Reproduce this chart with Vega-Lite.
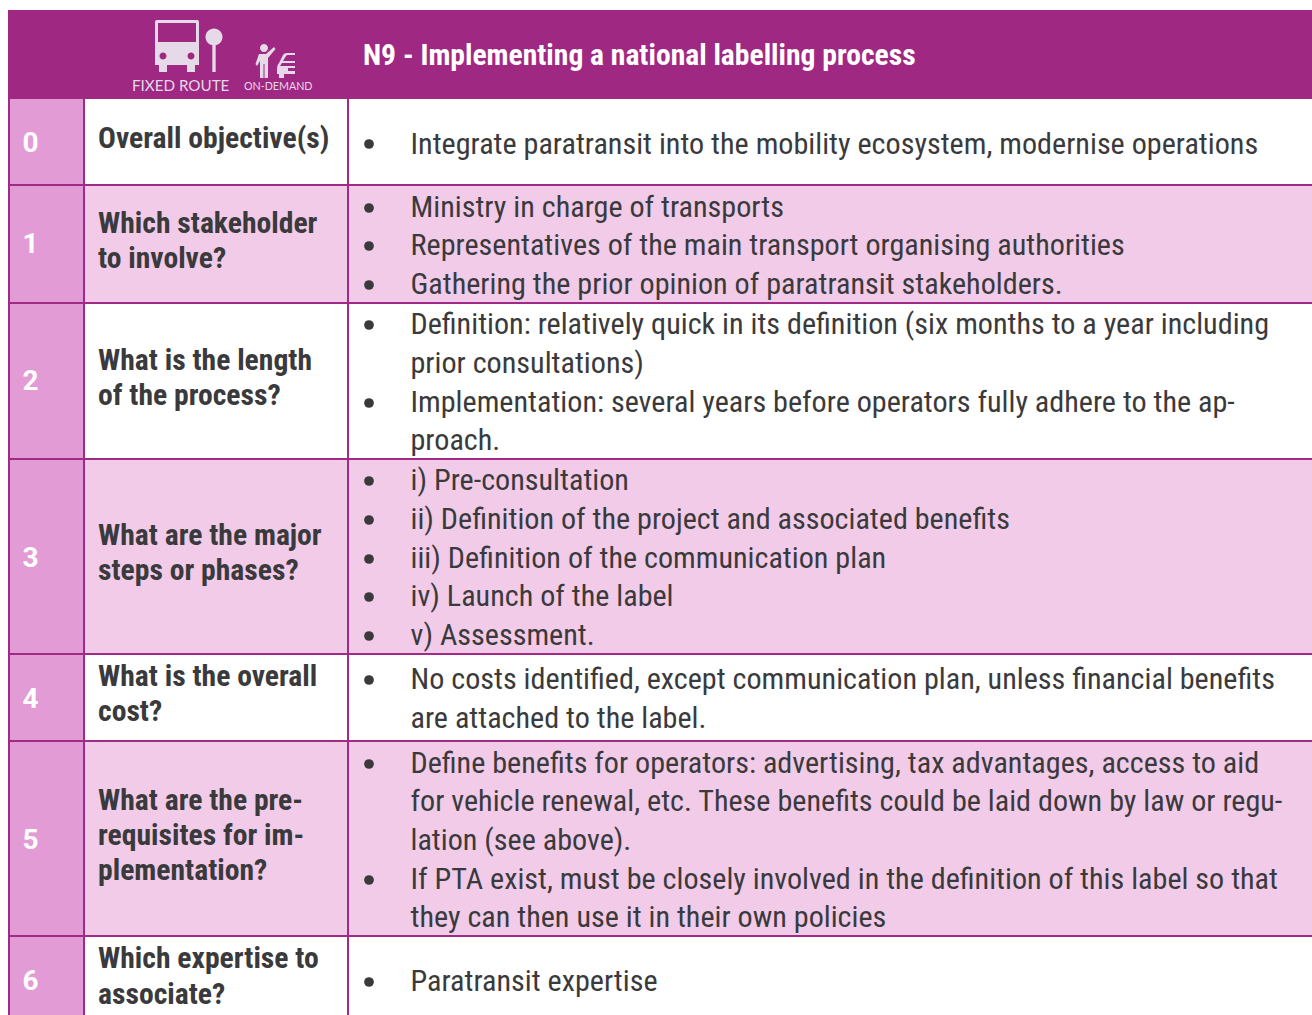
{
"$schema":"https://vega.github.io/schema/vega-lite/v6.json",
"width":1312,"height":1015,"padding":0,
"autosize":"none",
"background":"white",
"config":{"view":{"stroke":null}},
"encoding":{},
"layer":[
{"data":{"values":[
{"cell":"header","tone":"header","x":8,"x2":1312,"y":10,"y2":99},
{"cell":"r0 index","tone":"index","x":8,"x2":84,"y":99,"y2":185},
{"cell":"r1 index","tone":"index","x":8,"x2":84,"y":185,"y2":303},
{"cell":"r2 index","tone":"index","x":8,"x2":84,"y":303,"y2":459},
{"cell":"r3 index","tone":"index","x":8,"x2":84,"y":459,"y2":654},
{"cell":"r4 index","tone":"index","x":8,"x2":84,"y":654,"y2":741},
{"cell":"r5 index","tone":"index","x":8,"x2":84,"y":741,"y2":936},
{"cell":"r6 index","tone":"index","x":8,"x2":84,"y":936,"y2":1015},
{"cell":"r1 body","tone":"band","x":84,"x2":1312,"y":185,"y2":303},
{"cell":"r3 body","tone":"band","x":84,"x2":1312,"y":459,"y2":654},
{"cell":"r5 body","tone":"band","x":84,"x2":1312,"y":741,"y2":936}
]},
"mark":{"type":"rect"},
"encoding":{
"x":{"field":"x","type":"quantitative","scale":{"domain":[0,1312],"nice":false,"zero":false},"axis":null},
"x2":{"field":"x2"},
"y":{"field":"y","type":"quantitative","scale":{"domain":[0,1015],"reverse":true,"nice":false,"zero":false},"axis":null},
"y2":{"field":"y2"},
"color":{"field":"tone","type":"nominal","legend":null,"scale":{"domain":["header","index","band"],"range":["#9f2882","#e39bd5","#f1cbe8"]}}
}},
{"data":{"values":[
{"x":9,"y":99,"y2":1015},{"x":84,"y":99,"y2":1015},{"x":348,"y":99,"y2":1015}
]},
"mark":{"type":"rule","color":"#a02a86","strokeWidth":2},
"encoding":{"x":{"field":"x","type":"quantitative"},"y":{"field":"y","type":"quantitative"},"y2":{"field":"y2"}}},
{"data":{"values":[
{"y":185},{"y":303},{"y":459},{"y":654},{"y":741},{"y":936}
]},
"mark":{"type":"rule","color":"#a02a86","strokeWidth":2},
"encoding":{"y":{"field":"y","type":"quantitative"},"x":{"datum":8},"x2":{"datum":1312}}},
{"data":{"values":[{"x":369,"y":144},{"x":369,"y":208},{"x":369,"y":246},{"x":369,"y":285},{"x":369,"y":325},{"x":369,"y":403},{"x":369,"y":481},{"x":369,"y":520},{"x":369,"y":559},{"x":369,"y":597},{"x":369,"y":636},{"x":369,"y":680},{"x":369,"y":764},{"x":369,"y":880},{"x":369,"y":982}]},
"mark":{"type":"point","filled":true,"opacity":1,"color":"#3a3a3c","size":95},
"encoding":{"x":{"field":"x","type":"quantitative"},"y":{"field":"y","type":"quantitative"}}},
{"data":{"values":[
{"t":"Integrate paratransit into the mobility ecosystem, modernise operations","y":153.5},
{"t":"Ministry in charge of transports","y":217},
{"t":"Representatives of the main transport organising authorities","y":255},
{"t":"Gathering the prior opinion of paratransit stakeholders.","y":293.5},
{"t":"Definition: relatively quick in its definition (six months to a year including","y":334},
{"t":"prior consultations)","y":373},
{"t":"Implementation: several years before operators fully adhere to the ap-","y":412},
{"t":"proach.","y":450},
{"t":"i) Pre-consultation","y":490},
{"t":"ii) Definition of the project and associated benefits","y":529},
{"t":"iii) Definition of the communication plan","y":568},
{"t":"iv) Launch of the label","y":606},
{"t":"v) Assessment.","y":645},
{"t":"No costs identified, except communication plan, unless financial benefits","y":689},
{"t":"are attached to the label.","y":728},
{"t":"Define benefits for operators: advertising, tax advantages, access to aid","y":773},
{"t":"for vehicle renewal, etc. These benefits could be laid down by law or regu-","y":811},
{"t":"lation (see above).","y":850},
{"t":"If PTA exist, must be closely involved in the definition of this label so that","y":889},
{"t":"they can then use it in their own policies","y":927},
{"t":"Paratransit expertise","y":991}
]},
"mark":{"type":"text","align":"left","baseline":"alphabetic","font":"Roboto Condensed, Liberation Sans Narrow","fontSize":30.15,"color":"#3a3a3c"},
"encoding":{"x":{"datum":410.5},"y":{"field":"y","type":"quantitative"},"text":{"field":"t"}}},
{"data":{"values":[
{"t":"Overall objective(s)","y":148},
{"t":"Which stakeholder","y":233},
{"t":"to involve?","y":268},
{"t":"What is the length","y":370},
{"t":"of the process?","y":405},
{"t":"What are the major","y":545},
{"t":"steps or phases?","y":580},
{"t":"What is the overall","y":686},
{"t":"cost?","y":721},
{"t":"What are the pre-","y":810},
{"t":"requisites for im-","y":845},
{"t":"plementation?","y":880},
{"t":"Which expertise to","y":968},
{"t":"associate?","y":1004}
]},
"mark":{"type":"text","align":"left","baseline":"alphabetic","font":"Roboto Condensed, Liberation Sans Narrow","fontWeight":"bold","fontSize":29.65,"color":"#3a3a3c"},
"encoding":{"x":{"datum":98},"y":{"field":"y","type":"quantitative"},"text":{"field":"t"}}},
{"data":{"values":[
{"t":"0","y":152},{"t":"1","y":253},{"t":"2","y":390},{"t":"3","y":566.5},{"t":"4","y":707.5},{"t":"5","y":848.5},{"t":"6","y":990}
]},
"mark":{"type":"text","align":"center","baseline":"alphabetic","font":"Roboto","fontWeight":"bold","fontSize":28,"color":"#ffffff"},
"encoding":{"x":{"datum":30.5},"y":{"field":"y","type":"quantitative"},"text":{"field":"t"}}},
{"data":{"values":[{"t":"N9 - Implementing a national labelling process","y":65}]},
"mark":{"type":"text","align":"left","baseline":"alphabetic","font":"Roboto Condensed, Liberation Sans Narrow","fontWeight":"bold","fontSize":29.6,"color":"#ffffff"},
"encoding":{"x":{"datum":363},"y":{"field":"y","type":"quantitative"},"text":{"field":"t"}}},
{"data":{"values":[{"t":"FIXED ROUTE","y":91}]},
"mark":{"type":"text","align":"left","baseline":"alphabetic","font":"Lato","fontSize":15.2,"color":"#e6d9e8"},
"encoding":{"x":{"datum":132},"y":{"field":"y","type":"quantitative"},"text":{"field":"t"}}},
{"data":{"values":[{"t":"ON-DEMAND","y":90}]},
"mark":{"type":"text","align":"left","baseline":"alphabetic","font":"Lato","fontSize":10.7,"color":"#e6d9e8"},
"encoding":{"x":{"datum":244},"y":{"field":"y","type":"quantitative"},"text":{"field":"t"}}},
{"data":{"values":[{"icon":"bus","x":177,"y":46}]},
"mark":{"type":"point","filled":true,"opacity":1,"color":"#e6d9e8","size":4,"shape":"M-20,-26 H20 Q22,-26 22,-24 V19 H18 V26 H10 V19 H-10 V26 H-18 V19 H-22 V-24 Q-22,-26 -20,-26 Z M-19,-23 V-4 H19 V-23 Z M-14,6.5 A3.5,3.5 0 1 0 -14,13.5 A3.5,3.5 0 1 0 -14,6.5 Z M14,6.5 A3.5,3.5 0 1 0 14,13.5 A3.5,3.5 0 1 0 14,6.5 Z"},
"encoding":{"x":{"field":"x","type":"quantitative"},"y":{"field":"y","type":"quantitative"}}},
{"data":{"values":[{"icon":"stop","x":214,"y":37}]},
"mark":{"type":"point","filled":true,"opacity":1,"color":"#e6d9e8","size":4,"shape":"M0,-8.5 A8.5,8.5 0 1 1 0,8.5 A8.5,8.5 0 1 1 0,-8.5 Z M-1.7,8 H1.7 V35 H-1.7 Z"},
"encoding":{"x":{"field":"x","type":"quantitative"},"y":{"field":"y","type":"quantitative"}}},
{"data":{"values":[{"icon":"person","x":264,"y":48}]},
"mark":{"type":"point","filled":true,"opacity":1,"color":"#e6d9e8","size":4,"shape":"M0,-4 A4,4 0 1 1 0,4 A4,4 0 1 1 0,-4 Z M-5,6 L2,6 L10,-1 L11.5,1 L4,10 L4,30 H0.5 V16 H-0.5 V30 H-4 V13 L-7,18 L-8.5,16 Z"},
"encoding":{"x":{"field":"x","type":"quantitative"},"y":{"field":"y","type":"quantitative"}}},
{"data":{"values":[{"icon":"car","x":286,"y":65}]},
"mark":{"type":"point","filled":true,"opacity":1,"color":"#e6d9e8","size":4,"shape":"M9,-12 H1 Q-2,-12 -3,-10 L-7,-2 Q-9,0 -9,3 V9 H-7 V13 H-2 V9 H9 V6 H2 V3 H9 V1 H-6 L-4,-2 H9 V-4 H-3 L0,-9 Q0.5,-10 2,-10 H9 Z"},
"encoding":{"x":{"field":"x","type":"quantitative"},"y":{"field":"y","type":"quantitative"}}}
]
}
